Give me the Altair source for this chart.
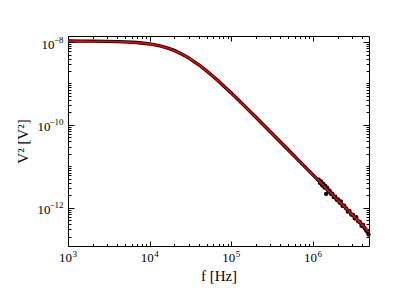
import altair as alt
import pandas as pd

# Fitted Lorentzian curve (red)
fit_f = [1e3, 1.5e3, 2e3, 3e3, 4e3, 5e3, 7e3, 1e4, 1.3e4, 1.6e4, 2e4, 2.5e4, 3e4, 4e4,
         5e4, 6e4, 7e4, 8.5e4, 1e5, 1.5e5, 2e5, 3e5, 5e5, 7e5, 1e6, 1.5e6, 2e6, 3e6,
         4e6, 4.86e6]
fit_v = [1.048e-8, 1.046e-8, 1.043e-8, 1.034e-8, 1.022e-8, 1.007e-8, 9.69e-9, 8.98e-9,
         8.16e-9, 7.32e-9, 6.26e-9, 5.10e-9, 4.16e-9, 2.83e-9, 2.005e-9, 1.479e-9,
         1.128e-9, 7.92e-10, 5.85e-10, 2.68e-10, 1.526e-10, 6.84e-11, 2.47e-11,
         1.263e-11, 6.19e-12, 2.75e-12, 1.548e-12, 6.88e-13, 3.87e-13, 2.62e-13]

# Measured data (black): smooth trace
meas_f = [1e3, 1.5e3, 2e3, 3e3, 4e3, 5e3, 7e3, 1e4, 1.3e4, 1.6e4, 2e4, 2.5e4, 3e4, 4e4,
          5e4, 6e4, 7e4, 8.5e4, 1e5, 1.5e5, 2e5, 3e5, 5e5, 7e5, 1e6, 1.5e6, 2e6, 3e6,
          4e6, 4.86e6]
meas_v = [1.06e-8, 1.055e-8, 1.05e-8, 1.04e-8, 1.025e-8, 1.01e-8, 9.72e-9, 9.0e-9,
          8.18e-9, 7.33e-9, 6.27e-9, 5.10e-9, 4.16e-9, 2.83e-9, 2.0e-9, 1.48e-9,
          1.13e-9, 7.9e-10, 5.85e-10, 2.68e-10, 1.53e-10, 6.85e-11, 2.47e-11,
          1.26e-11, 6.2e-12, 2.76e-12, 1.55e-12, 6.9e-13, 3.85e-13, 2.4e-13]
# Measured data (black): noisy high-frequency points
noisy_f = [1.18e6, 1.22e6, 1.26e6, 1.30e6, 1.34e6, 1.38e6, 1.42e6, 1.45e6, 1.50e6, 1.55e6,
           1.60e6, 1.66e6, 1.73e6, 1.80e6, 1.88e6, 1.95e6, 2.03e6, 2.12e6, 2.20e6, 2.30e6,
           2.42e6, 2.55e6, 2.68e6, 2.80e6, 2.95e6, 3.10e6, 3.25e6, 3.40e6, 3.58e6, 3.75e6,
           3.93e6, 4.12e6, 4.32e6, 4.50e6, 4.65e6, 4.80e6]
noisy_v = [4.75e-12, 3.95e-12, 4.30e-12, 3.45e-12, 3.75e-12, 3.05e-12, 3.35e-12, 2.15e-12,
           3.00e-12, 2.45e-12, 2.60e-12, 2.15e-12, 2.20e-12, 1.80e-12, 1.85e-12, 1.55e-12,
           1.60e-12, 1.33e-12, 1.42e-12, 1.10e-12, 1.12e-12, 9.60e-13, 8.00e-13, 8.40e-13,
           6.80e-13, 6.70e-13, 5.50e-13, 5.90e-13, 4.70e-13, 4.55e-13, 3.65e-13, 3.85e-13,
           3.15e-13, 2.80e-13, 2.60e-13, 2.25e-13]

x_major = [1e3, 1e4, 1e5, 1e6]
x_minor = [2e3, 3e3, 4e3, 5e3, 6e3, 7e3, 8e3, 9e3,
           2e4, 3e4, 4e4, 5e4, 6e4, 7e4, 8e4, 9e4,
           2e5, 3e5, 4e5, 5e5, 6e5, 7e5, 8e5, 9e5,
           2e6, 3e6, 4e6]
y_major = [1e-8, 1e-10, 1e-12]
y_minor = [9e-9, 8e-9, 7e-9, 6e-9, 5e-9, 4e-9, 3e-9, 2e-9, 1e-9,
           9e-10, 8e-10, 7e-10, 6e-10, 5e-10, 4e-10, 3e-10, 2e-10,
           9e-11, 8e-11, 7e-11, 6e-11, 5e-11, 4e-11, 3e-11, 2e-11, 1e-11,
           9e-12, 8e-12, 7e-12, 6e-12, 5e-12, 4e-12, 3e-12, 2e-12,
           9e-13, 8e-13, 7e-13, 6e-13, 5e-13, 4e-13, 3e-13, 2e-13]

x_domain = [1e3, 4.86e6]
y_domain = [1.19e-13, 1.40e-8]

fit_df = pd.DataFrame({"f": fit_f, "v": fit_v})
meas_df = pd.DataFrame({"f": meas_f, "v": meas_v})
noisy_df = pd.DataFrame({"f": noisy_f, "v": noisy_v})

FONT = "Liberation Serif"
BASE = 13
EXP = 9
TITLE = 15
xs = alt.Scale(type="log", domain=x_domain, nice=False)
ys = alt.Scale(type="log", domain=y_domain, nice=False)

x_exp_expr = ("datum.value < 5000 ? '3' : datum.value < 50000 ? '4' : "
              "datum.value < 500000 ? '5' : '6'")
y_exp_expr = ("datum.value < 1e-11 ? '−12' : datum.value < 1e-9 ? '−10' : '−8'")


def tick_axis(orient, values, size):
    return alt.Axis(orient=orient, values=values, tickSize=size, offset=-size,
                    labels=False, domain=False, grid=False, title="",
                    tickColor="black", tickWidth=1)


# base "10" labels + title
base_x = alt.Axis(orient="bottom", values=x_major, ticks=False, domain=False, grid=False,
                  labelExpr="'10'", labelFont=FONT, labelFontSize=BASE,
                  labelColor="black", labelPadding=5, labelOffset=-3, labelFlush=False,
                  labelAlign="center",
                  title="f  [Hz]", titleFont=FONT, titleFontSize=TITLE,
                  titleFontWeight="normal", titleColor="black", titlePadding=4)
base_y = alt.Axis(orient="left", values=y_major, ticks=False, domain=False, grid=False,
                  labelExpr="'10'", labelFont=FONT, labelFontSize=BASE,
                  labelColor="black", labelOffset=2, labelFlush=False,
                  labelPadding={"condition": {"test": "datum.value > 5e-9", "value": 14},
                                "value": 18},
                  title="V²  [V²]", titleFont=FONT, titleFontSize=TITLE,
                  titleFontWeight="normal", titleColor="black", titlePadding=7)
# exponent labels
exp_x = alt.Axis(orient="bottom", values=x_major, ticks=False, domain=False, grid=False,
                 labelExpr=x_exp_expr, labelFont=FONT, labelFontSize=EXP,
                 labelColor="black", labelPadding=3, labelOffset=4, labelAlign="left",
                 labelFlush=False, title="")
exp_y = alt.Axis(orient="left", values=y_major, ticks=False, domain=False, grid=False,
                 labelExpr=y_exp_expr, labelFont=FONT, labelFontSize=EXP,
                 labelColor="black", labelPadding=5, labelOffset=-3, labelAlign="right",
                 labelFlush=False, title="")

black_line = alt.Chart(meas_df).mark_line(color="black", strokeWidth=3.4).encode(
    x=alt.X("f:Q", scale=xs, axis=base_x),
    y=alt.Y("v:Q", scale=ys, axis=base_y),
)
black_pts = alt.Chart(noisy_df).mark_circle(color="black", size=18, opacity=1).encode(
    x=alt.X("f:Q", scale=xs, axis=exp_x),
    y=alt.Y("v:Q", scale=ys, axis=exp_y),
)
red_line = alt.Chart(fit_df).mark_line(color="#ee0000", strokeWidth=1.8).encode(
    x=alt.X("f:Q", scale=xs, axis=tick_axis("bottom", x_major, 5)),
    y=alt.Y("v:Q", scale=ys, axis=tick_axis("left", y_major, 6)),
)
ghost0 = alt.Chart(fit_df).mark_point(opacity=0).encode(
    x=alt.X("f:Q", scale=xs, axis=tick_axis("bottom", x_minor, 2.5)),
    y=alt.Y("v:Q", scale=ys, axis=tick_axis("left", y_minor, 3)),
)
ghost1 = alt.Chart(fit_df).mark_point(opacity=0).encode(
    x=alt.X("f:Q", scale=xs, axis=tick_axis("top", x_major, 5)),
    y=alt.Y("v:Q", scale=ys, axis=tick_axis("right", y_major, 6)),
)
ghost2 = alt.Chart(fit_df).mark_point(opacity=0).encode(
    x=alt.X("f:Q", scale=xs, axis=tick_axis("top", x_minor, 2.5)),
    y=alt.Y("v:Q", scale=ys, axis=tick_axis("right", y_minor, 3)),
)

chart = alt.layer(black_line, black_pts, red_line, ghost0, ghost1, ghost2).resolve_axis(
    x="independent", y="independent"
).properties(
    width=301, height=210,
    autosize=alt.AutoSizeParams(type="none"),
    padding={"left": 60, "top": 28, "right": 30, "bottom": 40},
    background="white",
).configure_view(stroke="black", strokeWidth=1)

chart.save("out.html", embed_options={"renderer": "svg", "actions": False})
